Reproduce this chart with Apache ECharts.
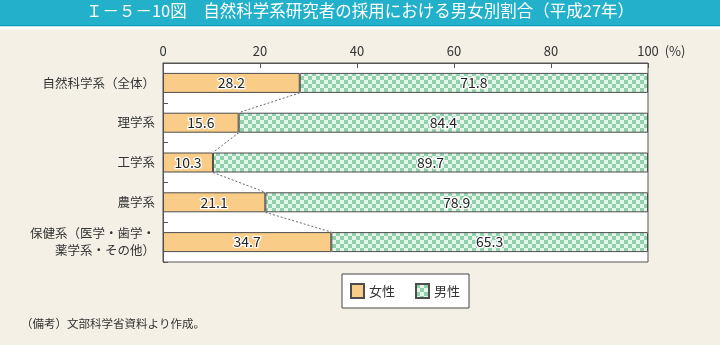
<!DOCTYPE html>
<html>
<head>
<meta charset="utf-8">
<script src="https://cdn.jsdelivr.net/npm/echarts@6/dist/echarts.min.js"></script>
<style>
  html, body { margin: 0; padding: 0; background: #f4f0e6; }
  #chart { width: 720px; height: 345px; }
</style>
</head>
<body>
<div id="chart"></div>
<script>
// 自然科学系研究者の採用における男女別割合（平成27年）
const categories = ['自然科学系（全体）', '理学系', '工学系', '農学系', '保健系（医学・歯学・\n薬学系・その他）'];
const female = [28.2, 15.6, 10.3, 21.1, 34.7];
const male = [71.8, 84.4, 89.7, 78.9, 65.3];
const xTicks = [0, 20, 40, 60, 80, 100];

const FONT = '"Noto Sans CJK JP", "Noto Sans", sans-serif';

// checkered fill for the male segment
function checker() {
  const c = document.createElement('canvas');
  c.width = 8; c.height = 8;
  const g = c.getContext('2d');
  g.fillStyle = '#e6f5ea';
  g.fillRect(0, 0, 8, 8);
  g.fillStyle = '#8fd1aa';
  g.fillRect(0, 0, 4, 4);
  g.fillRect(4, 4, 4, 4);
  return c;
}
const malePattern = { image: checker(), repeat: 'repeat' };

// dotted connectors between the ends of consecutive female segments
const connectors = [];
for (let i = 0; i < female.length - 1; i++) {
  connectors.push([i, female[i], female[i + 1]]);
}

const chart = echarts.init(document.getElementById('chart'), null, { renderer: 'canvas' });

const valueLabel = {
  show: true,
  position: 'inside',
  color: '#222',
  fontSize: 14,
  fontFamily: FONT,
  textBorderColor: '#ffffff',
  textBorderWidth: 2.5
};

chart.setOption({
  backgroundColor: '#f4f0e6',
  animation: false,
  textStyle: { fontFamily: FONT },
  graphic: [
    { type: 'rect', shape: { x: 0, y: 0, width: 720, height: 25 }, style: { fill: '#22b0cb' }, silent: true },
    { type: 'rect', shape: { x: 0, y: 25, width: 720, height: 1.5 }, style: { fill: '#0d9fba' }, silent: true },
    { type: 'rect', shape: { x: 0, y: 26.5, width: 720, height: 3 }, style: { fill: '#ffffff' }, silent: true },
    {
      type: 'text', left: 'center', top: 2.5,
      style: {
        text: 'Ｉ－５－10図　自然科学系研究者の採用における男女別割合（平成27年）',
        fill: '#ffffff', font: '16.5px ' + FONT
      }
    },
    {
      type: 'text', left: 21, top: 318,
      style: { text: '（備考）文部科学省資料より作成。', fill: '#333333', font: '11.5px ' + FONT }
    }
  ],
  grid: {
    left: 163, right: 72, top: 63, bottom: 83,
    show: true, backgroundColor: '#ffffff', borderColor: '#555555', borderWidth: 1
  },
  legend: {
    left: 342, top: 274,
    backgroundColor: '#ffffff', borderColor: '#444444', borderWidth: 1,
    padding: [9, 9, 9, 8],
    itemWidth: 13, itemHeight: 14, itemGap: 20,
    icon: 'rect',
    textStyle: { fontSize: 13, color: '#333', fontFamily: FONT },
    data: ['女性', '男性']
  },
  xAxis: {
    type: 'value', position: 'top', min: 0, max: 100, interval: 20,
    axisLine: { show: true, lineStyle: { color: '#555' } },
    axisTick: { show: true, inside: true, length: 5, lineStyle: { color: '#555' } },
    splitLine: { show: false },
    axisLabel: {
      margin: 5, fontSize: 13, color: '#333',
      customValues: xTicks
    },
    name: '(%)', nameLocation: 'end', nameGap: 14,
    nameTextStyle: { fontSize: 13, color: '#333', align: 'left', verticalAlign: 'bottom', padding: [0, 0, 5, 0] }
  },
  yAxis: {
    type: 'category', inverse: true, data: categories,
    axisLine: { show: true, lineStyle: { color: '#555' } },
    axisTick: { show: true, inside: true, length: 5, lineStyle: { color: '#555' } },
    axisLabel: { margin: 8, fontSize: 12.5, color: '#333', lineHeight: 17, fontFamily: FONT }
  },
  series: [
    {
      name: '女性', type: 'bar', stack: 'all', barWidth: 20,
      data: female,
      itemStyle: { color: '#f9cd87', borderColor: '#4d4d4d', borderWidth: 1 },
      label: valueLabel
    },
    {
      name: '男性', type: 'bar', stack: 'all', barWidth: 20,
      data: male,
      itemStyle: { color: malePattern, borderColor: '#4d4d4d', borderWidth: 1 },
      label: valueLabel
    },
    {
      type: 'custom', name: 'connector', silent: true, z: 5,
      data: connectors,
      encode: { x: 1, y: 0 },
      renderItem: function (params, api) {
        const i = api.value(0);
        const p1 = api.coord([api.value(1), i]);
        const p2 = api.coord([api.value(2), i + 1]);
        return {
          type: 'line',
          shape: { x1: p1[0], y1: p1[1] + 10, x2: p2[0], y2: p2[1] - 10 },
          style: { stroke: '#666666', lineWidth: 1, lineDash: [2, 2] }
        };
      }
    }
  ]
});
</script>
</body>
</html>
